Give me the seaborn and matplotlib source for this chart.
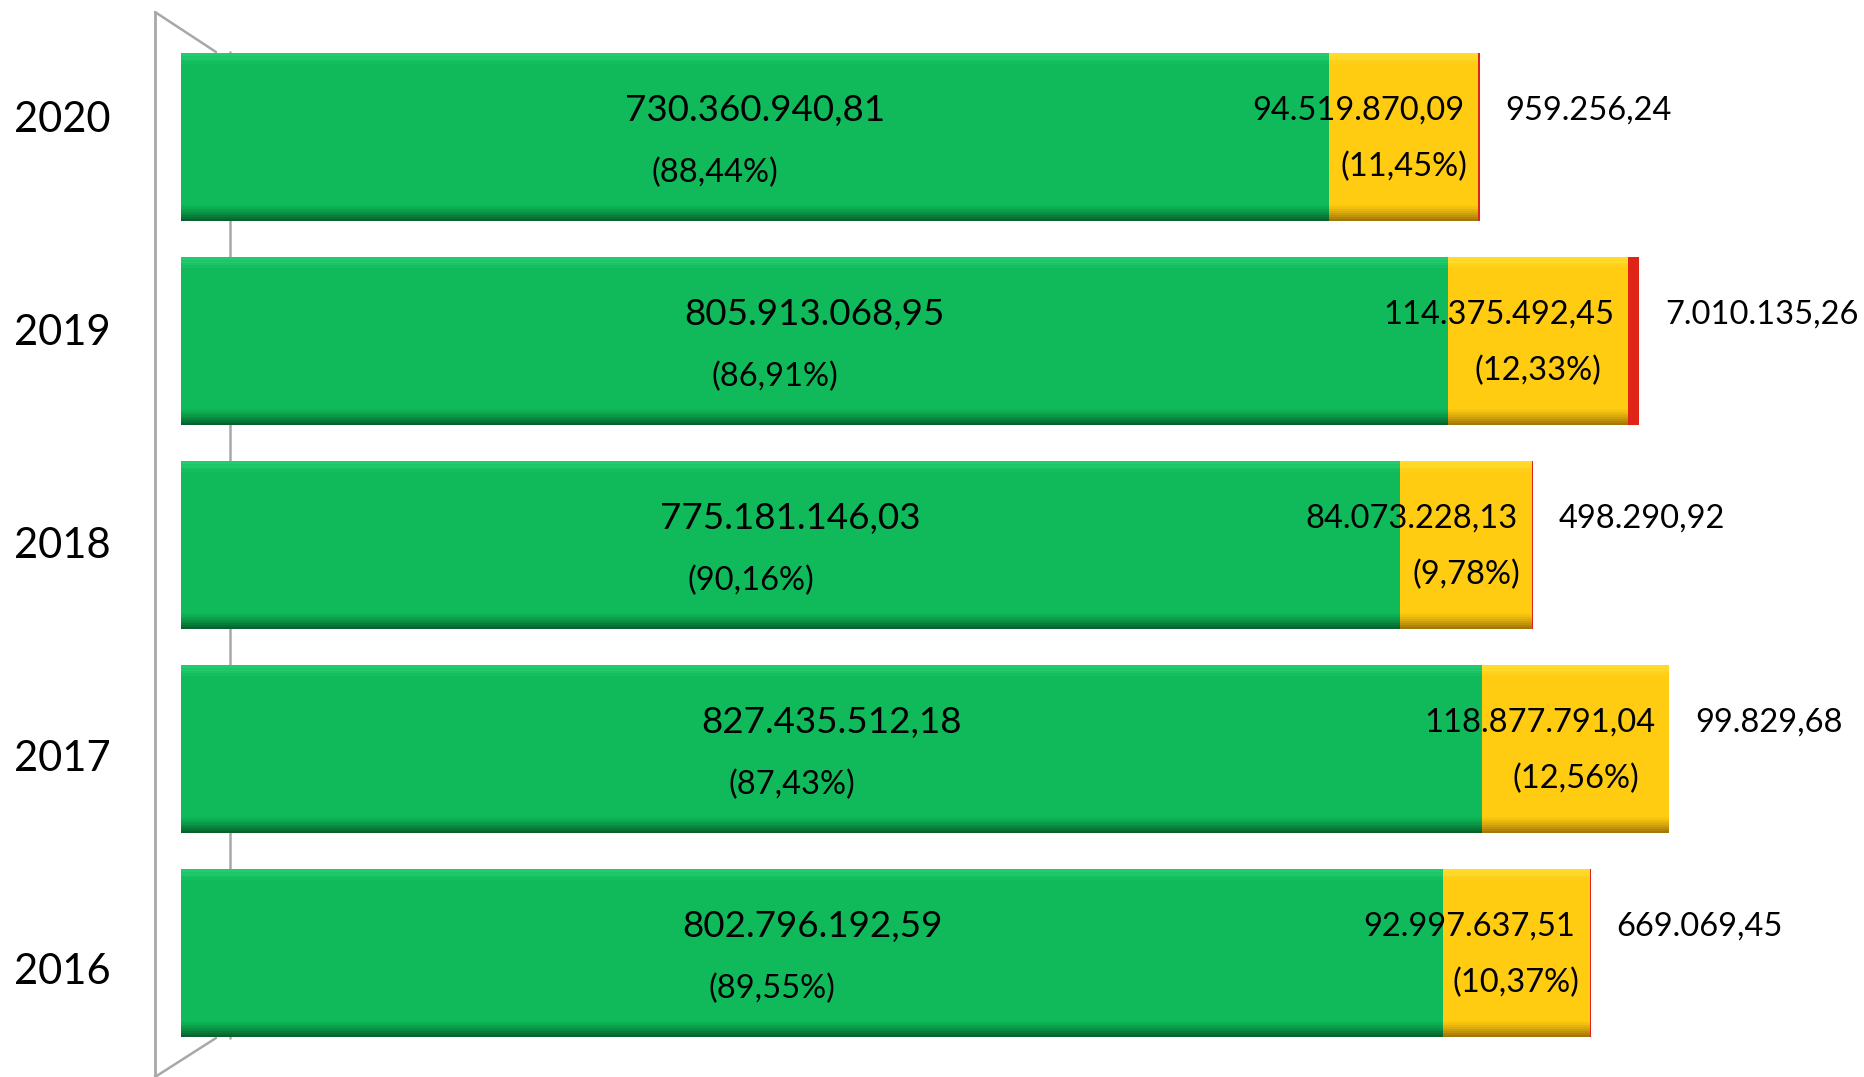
import numpy as np
import pandas as pd
import matplotlib
matplotlib.use("Agg")
import matplotlib.pyplot as plt
import matplotlib.transforms as mtransforms
import seaborn as sns

# ---------------- data ----------------
years = ["2020", "2019", "2018", "2017", "2016"]
green_vals = [730360940.81, 805913068.95, 775181146.03, 827435512.18, 802796192.59]
yellow_vals = [94519870.09, 114375492.45, 84073228.13, 118877791.04, 92997637.51]
red_vals = [959256.24, 7010135.26, 498290.92, 99829.68, 669069.45]
green_pct = ["88,44%", "86,91%", "90,16%", "87,43%", "89,55%"]
yellow_pct = ["11,45%", "12,33%", "9,78%", "12,56%", "10,37%"]

GREEN = "#10BA5A"
GREEN_DARK = "#07582A"
GREEN_LIGHT = "#2FD77A"
YELLOW = "#FFCC12"
YELLOW_DARK = "#9A6E08"
YELLOW_LIGHT = "#FFE53C"
RED = "#E02418"


def br(v):
    s = f"{v:,.2f}"
    return s.replace(",", "X").replace(".", ",").replace("X", ".")


sns.set_theme(style="white")
plt.rcParams["font.family"] = ["Lato", "DejaVu Sans"]

W, H = 1864, 1077
fig = plt.figure(figsize=(W / 100, H / 100), dpi=100)
ax = fig.add_axes([0, 0, 1, 1])

g = np.array(green_vals)
yv = np.array(yellow_vals)
r = np.array(red_vals)
df = pd.DataFrame({
    "year": years,
    "total": g + yv + r,
    "gy": g + yv,
    "g": g,
})

BW = 0.82
for col, c in (("total", RED), ("gy", YELLOW), ("g", GREEN)):
    sns.barplot(data=df, y="year", x=col, color=c, orient="h", width=BW,
                saturation=1, ax=ax, order=years, zorder=3,
                linewidth=0, edgecolor="none")

# pixel scale
px_per_unit = 1.5724e-6
x0_px = 181
ax.set_xlim(-x0_px / px_per_unit, (W - x0_px) / px_per_unit)
unit_px = 204.0
top_c = 137.0
ax.set_ylim((H - top_c) / unit_px, -top_c / unit_px)
ax.axis("off")

pos = np.arange(len(years))
# 3D-like shading: gradient bands at bottom, highlight at top
nb = 8
band = 0.075
for i in pos:
    bottom = i + BW / 2
    topy = i - BW / 2
    for k in range(nb):
        h = band / nb
        yc = bottom - h * (k + 0.5)
        a = 0.9 * (1 - k / nb) ** 1.3
        ax.barh(yc, g[i], left=0, height=h * 1.05, color=GREEN_DARK, zorder=4,
                alpha=a, linewidth=0)
        ax.barh(yc, yv[i], left=g[i], height=h * 1.05, color=YELLOW_DARK, zorder=4,
                alpha=a, linewidth=0)
    for k in range(4):
        h = 0.05 / 4
        yc = topy + h * (k + 0.5)
        a = 0.6 * (1 - k / 4)
        ax.barh(yc, g[i], left=0, height=h * 1.05, color=GREEN_LIGHT, zorder=4,
                alpha=a, linewidth=0)
        ax.barh(yc, yv[i], left=g[i], height=h * 1.05, color=YELLOW_LIGHT, zorder=4,
                alpha=a, linewidth=0)


def px2x(p):
    return p / px_per_unit


def px2y(p):
    return p / unit_px


for i in pos:
    gc = g[i] / 2
    ax.text(gc, i - px2y(26), br(g[i]), ha="center", va="center", fontsize=26.5,
            color="black", zorder=6)
    ax.text(gc - px2x(40), i + px2y(36), f"({green_pct[i]})", ha="center", va="center",
            fontsize=23.5, color="black", zorder=6)
    yend = g[i] + yv[i]
    ax.text(yend - px2x(14), i - px2y(26), br(yv[i]), ha="right", va="center",
            fontsize=23.5, color="black", zorder=6)
    ax.text(g[i] + yv[i] / 2, i + px2y(30), f"({yellow_pct[i]})", ha="center",
            va="center", fontsize=23.5, color="black", zorder=6)
    tend = g[i] + yv[i] + r[i]
    ax.text(tend + px2x(26), i - px2y(26), br(r[i]), ha="left", va="center",
            fontsize=23.5, color="black", zorder=6)

# category labels on the (3D) axis: spaced slightly wider than the bars
for i in pos:
    ypx = 120 + 213 * i
    fig.text(62 / W, 1 - ypx / H, years[i], ha="center", va="center",
             fontsize=30, color="black", zorder=6)


# 3D frame (decoration)
def fx(p):
    return p / W


def fy(p):
    return 1 - p / H


lc = "#A8A8A8"
fig.add_artist(plt.Line2D([fx(155), fx(155)], [fy(12), fy(1077)], color=lc, lw=2, zorder=1))
fig.add_artist(plt.Line2D([fx(155), fx(216)], [fy(12), fy(52)], color=lc, lw=1.8, zorder=1))
fig.add_artist(plt.Line2D([fx(155), fx(216)], [fy(1077), fy(1038)], color=lc, lw=1.8, zorder=1))
ax.plot([px2x(230 - x0_px)] * 2, [px2y(52 - top_c), px2y(1038 - top_c)], color=lc,
        lw=1.8, zorder=1)

fig.savefig("out.png", dpi=100)
